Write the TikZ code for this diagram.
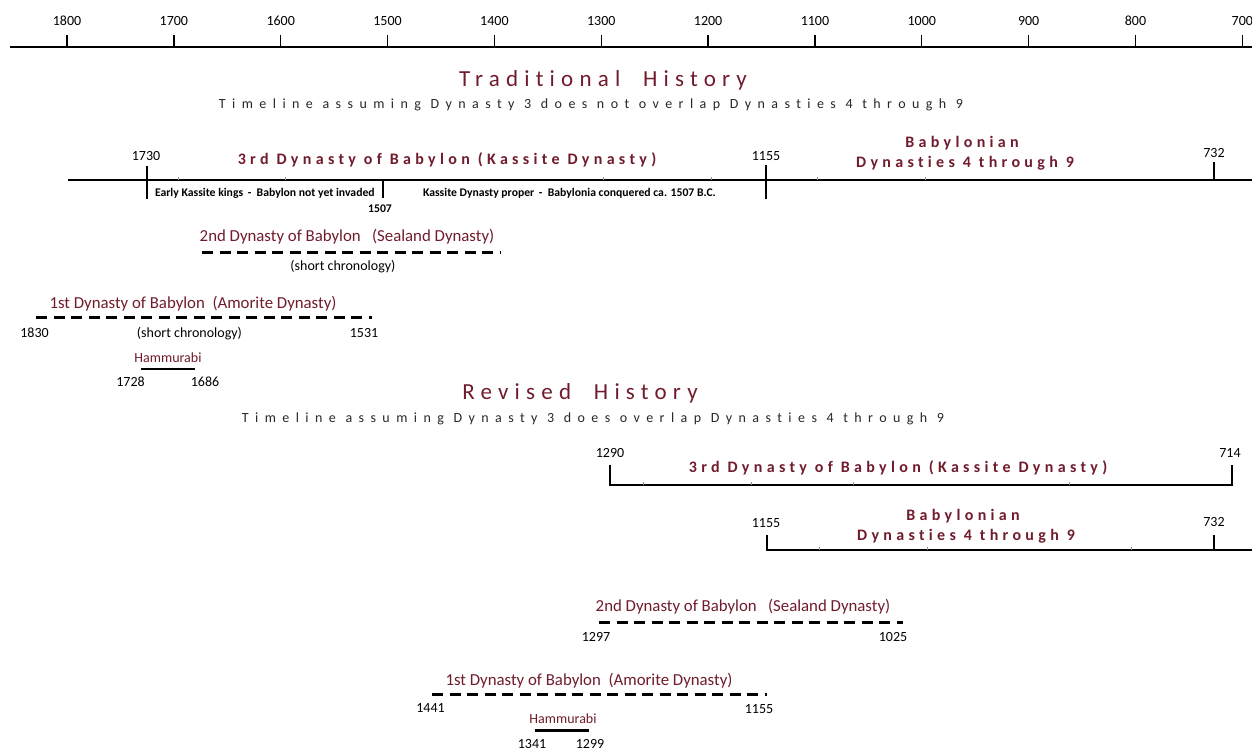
\documentclass[tikz,border=0pt]{standalone}
\usepackage{fontspec}
\setmainfont{Carlito}[Ligatures=NoCommon]
\newfontfamily\ttlfont{Carlito}[LetterSpace=27,Ligatures=NoCommon]
\newfontfamily\subfont{Carlito}[LetterSpace=46,Ligatures=NoCommon]
\newfontfamily\dynfont{Carlito}[LetterSpace=27,Ligatures=NoCommon]
\definecolor{maroon}{RGB}{112,28,44}
\definecolor{subgray}{RGB}{40,40,40}
\begin{document}
\begin{tikzpicture}[x=1pt,y=-1pt,
  every node/.style={inner sep=0pt, outer sep=0pt},
  num/.style={anchor=base, font=\fontsize{14}{16}\selectfont},
  ttl/.style={anchor=base, text=maroon, font=\ttlfont\fontsize{23}{27}\selectfont},
  subt/.style={anchor=base, text=subgray, font=\subfont\fontsize{14}{17}\selectfont},
  dynbold/.style={anchor=base, text=maroon, font=\dynfont\bfseries\fontsize{16}{19}\selectfont},
  dynreg/.style={anchor=base, text=maroon, font=\fontsize{16.8}{20}\selectfont},
  note/.style={anchor=base west, font=\bfseries\fontsize{11.7}{14}\selectfont},
  hamm/.style={anchor=base, text=maroon, font=\fontsize{14}{16}\selectfont},
  axisline/.style={line width=2.5pt},
  yeartick/.style={line width=1.3pt},
  bartick/.style={line width=2pt},
  minortick/.style={line width=0.6pt, black!45},
  dashline/.style={line width=2.8pt, dash pattern=on 11pt off 6.5pt},
]
\useasboundingbox (0,0) rectangle (1252,750);
\fill[white] (0,0) rectangle (1252,750);

% ---------- top year axis ----------
\coordinate (axL) at (10,47);
\coordinate (axR) at (1252,47);
\draw[axisline] (axL) -- (axR);
\foreach \yr in {1800,1700,...,700}{
  \pgfmathsetmacro\xx{67+(1800-\yr)*1.0685}
  \draw[yeartick] (\xx,47) -- (\xx,35);
  \node[num] (ax\yr) at (\xx,25) {\yr};
}

% ---------- Traditional history ----------
\node[ttl] (tradtitle) at (603,86.5) {Traditional\ \ History};
\node[subt] (tradsub) at (591,108) {Timeline assuming Dynasty 3 does not overlap Dynasties 4 through 9};

\draw[axisline] (68,180) -- (1252,180);
\foreach \mx in {178,285,603,711,817,925}{\draw[minortick] (\mx,180) -- (\mx,176.5);}
\draw[bartick] (147,166) -- (147,199);
\draw[bartick] (383,180) -- (383,198);
\draw[bartick] (766,165) -- (766,199);
\draw[bartick] (1214,162) -- (1214,180);

\node[num] (t1730) at (146,160) {1730};
\node[dynbold] (t3rd) at (447,164) {3rd Dynasty of Babylon (Kassite Dynasty)};
\node[num] (t1155) at (766,160) {1155};
\node[dynbold] (tbab1) at (962,147) {Babylonian};
\node[dynbold] (tbab2) at (965,167) {Dynasties 4 through 9};
\node[num] (t732) at (1214,157) {732};

\node[note] (early) at (155,196.5) {Early Kassite kings \,-\ \ Babylon not yet invaded};
\node[num, font=\bfseries\fontsize{11.7}{14}\selectfont] (t1507) at (380,212.5) {1507};
\node[note] (proper) at (423,196.5) {Kassite Dynasty proper \,-\ \ Babylonia conquered ca. 1507 B.C.};

% 2nd dynasty (traditional)
\node[dynreg] (t2nd) at (347,241.5) {2nd Dynasty of Babylon\ \ \ (Sealand Dynasty)};
\draw[dashline] (202,252.3) -- (500,252.3);
\node[num] (tshort2) at (343,270) {(short chronology)};

% 1st dynasty (traditional)
\node[dynreg] (t1st) at (193,308) {1st Dynasty of Babylon\ \ (Amorite Dynasty)};
\draw[dashline] (36,317.7) -- (372,317.7);
\node[num] (t1830) at (34.5,337.3) {1830};
\node[num] (tshort1) at (189.5,337) {(short chronology)};
\node[num] (t1531) at (364,337.3) {1531};

% Hammurabi (traditional)
\node[hamm] (thamm) at (168,362.7) {Hammurabi};
\draw[axisline] (141,369) -- (195,369);
\node[num] (t1728) at (130.5,386.7) {1728};
\node[num] (t1686) at (205,386.7) {1686};

% ---------- Revised history ----------
\node[ttl] (revtitle) at (580,399) {Revised\ \ History};
\node[subt] (revsub) at (593,422) {Timeline assuming Dynasty 3 does overlap Dynasties 4 through 9};

\draw[axisline] (610,485) -- (1232,485);
\foreach \mx in {643,751,853,1069}{\draw[minortick] (\mx,485) -- (\mx,481.5);}
\draw[bartick] (610,465) -- (610,486);
\draw[bartick] (1232,465) -- (1232,486);
\node[num] (r1290) at (610,457) {1290};
\node[dynbold] (r3rd) at (898,472) {3rd Dynasty of Babylon (Kassite Dynasty)};
\node[num] (r714) at (1230,457) {714};

\draw[axisline] (767,550) -- (1252,550);
\foreach \mx in {819,927,1131}{\draw[minortick] (\mx,550) -- (\mx,546.5);}
\draw[bartick] (767,535) -- (767,551);
\draw[bartick] (1214,535) -- (1214,551);
\node[num] (r1155a) at (766,527) {1155};
\node[dynbold] (rbab1) at (963,520) {Babylonian};
\node[dynbold] (rbab2) at (966,540) {Dynasties 4 through 9};
\node[num] (r732) at (1214,526) {732};

% 2nd dynasty (revised)
\node[dynreg] (r2nd) at (743,611.7) {2nd Dynasty of Babylon\ \ \ (Sealand Dynasty)};
\draw[dashline] (599,622.3) -- (903,622.3);
\node[num] (r1297) at (596,641.7) {1297};
\node[num] (r1025) at (893,641.7) {1025};

% 1st dynasty (revised)
\node[dynreg] (r1st) at (589,685) {1st Dynasty of Babylon\ \ (Amorite Dynasty)};
\draw[dashline] (432,694.3) -- (767,694.3);
\node[num] (r1441) at (430.5,712.7) {1441};
\node[num] (r1155b) at (759,713) {1155};

% Hammurabi (revised)
\node[hamm] (rhamm) at (563,723.3) {Hammurabi};
\draw[axisline] (535,730.5) -- (589.3,730.5);
\node[num] (r1341) at (532,748) {1341};
\node[num] (r1299) at (590,748) {1299};
\end{tikzpicture}
\end{document}
